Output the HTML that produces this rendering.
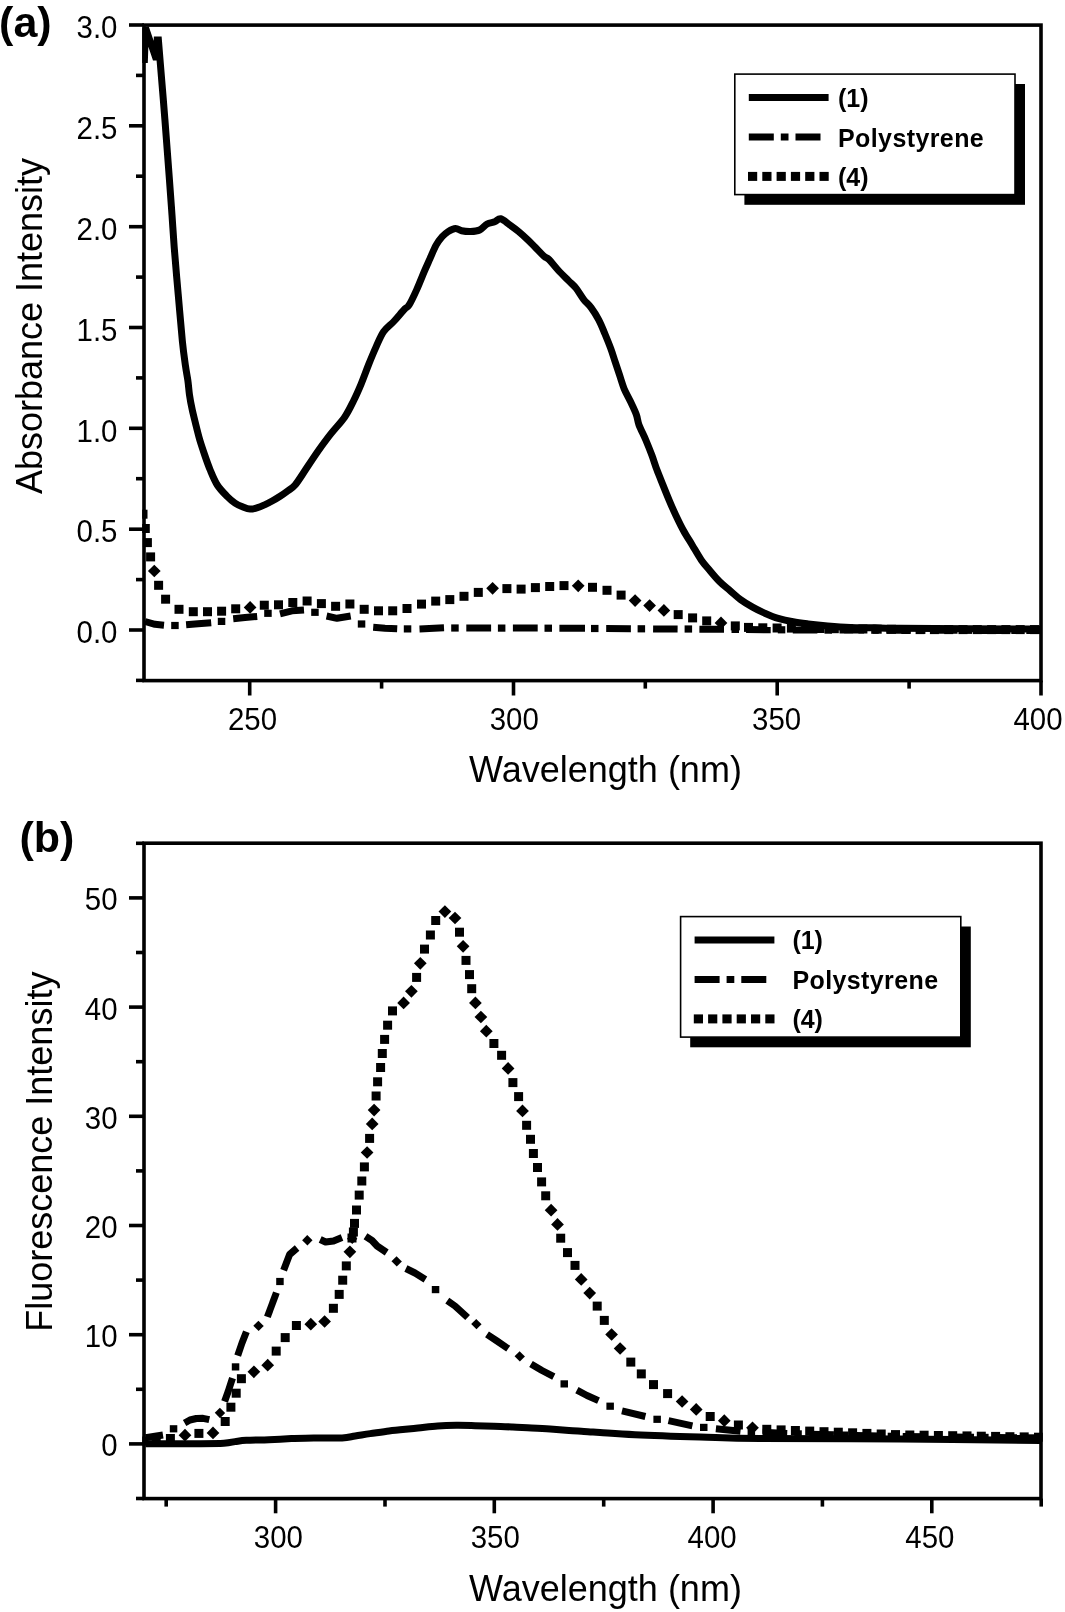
<!DOCTYPE html>
<html><head><meta charset="utf-8"><style>
html,body{margin:0;padding:0;background:#fff;}
svg{display:block;font-family:"Liberation Sans",sans-serif;will-change:transform;}
</style></head><body>
<svg width="1065" height="1612" viewBox="0 0 1065 1612">
<rect width="1065" height="1612" fill="#fff"/>
<rect x="144" y="25.1" width="897" height="655.5" fill="none" stroke="#000" stroke-width="3.6"/>
<line x1="129" y1="630" x2="144" y2="630" stroke="#000" stroke-width="3.6"/>
<line x1="129" y1="529.2" x2="144" y2="529.2" stroke="#000" stroke-width="3.6"/>
<line x1="129" y1="428.3" x2="144" y2="428.3" stroke="#000" stroke-width="3.6"/>
<line x1="129" y1="327.5" x2="144" y2="327.5" stroke="#000" stroke-width="3.6"/>
<line x1="129" y1="226.7" x2="144" y2="226.7" stroke="#000" stroke-width="3.6"/>
<line x1="129" y1="125.8" x2="144" y2="125.8" stroke="#000" stroke-width="3.6"/>
<line x1="129" y1="25" x2="144" y2="25" stroke="#000" stroke-width="3.6"/>
<line x1="136" y1="680.4" x2="144" y2="680.4" stroke="#000" stroke-width="3.6"/>
<line x1="136" y1="579.6" x2="144" y2="579.6" stroke="#000" stroke-width="3.6"/>
<line x1="136" y1="478.7" x2="144" y2="478.7" stroke="#000" stroke-width="3.6"/>
<line x1="136" y1="377.9" x2="144" y2="377.9" stroke="#000" stroke-width="3.6"/>
<line x1="136" y1="277.1" x2="144" y2="277.1" stroke="#000" stroke-width="3.6"/>
<line x1="136" y1="176.2" x2="144" y2="176.2" stroke="#000" stroke-width="3.6"/>
<line x1="136" y1="75.4" x2="144" y2="75.4" stroke="#000" stroke-width="3.6"/>
<line x1="249.7" y1="680.6" x2="249.7" y2="695.5" stroke="#000" stroke-width="3.6"/>
<line x1="513.5" y1="680.6" x2="513.5" y2="695.5" stroke="#000" stroke-width="3.6"/>
<line x1="777.2" y1="680.6" x2="777.2" y2="695.5" stroke="#000" stroke-width="3.6"/>
<line x1="1041" y1="680.6" x2="1041" y2="695.5" stroke="#000" stroke-width="3.6"/>
<line x1="381.6" y1="680.6" x2="381.6" y2="688.6" stroke="#000" stroke-width="3.6"/>
<line x1="645.3" y1="680.6" x2="645.3" y2="688.6" stroke="#000" stroke-width="3.6"/>
<line x1="909.1" y1="680.6" x2="909.1" y2="688.6" stroke="#000" stroke-width="3.6"/>
<text transform="translate(117.5,643.2) scale(0.92,1)" font-size="32" text-anchor="end">0.0</text>
<text transform="translate(117.5,542.4) scale(0.92,1)" font-size="32" text-anchor="end">0.5</text>
<text transform="translate(117.5,441.5) scale(0.92,1)" font-size="32" text-anchor="end">1.0</text>
<text transform="translate(117.5,340.7) scale(0.92,1)" font-size="32" text-anchor="end">1.5</text>
<text transform="translate(117.5,239.9) scale(0.92,1)" font-size="32" text-anchor="end">2.0</text>
<text transform="translate(117.5,139) scale(0.92,1)" font-size="32" text-anchor="end">2.5</text>
<text transform="translate(117.5,38.2) scale(0.92,1)" font-size="32" text-anchor="end">3.0</text>
<text transform="translate(252.5,730.2) scale(0.92,1)" font-size="32" text-anchor="middle">250</text>
<text transform="translate(514.2,730.2) scale(0.92,1)" font-size="32" text-anchor="middle">300</text>
<text transform="translate(776.6,730.2) scale(0.92,1)" font-size="32" text-anchor="middle">350</text>
<text transform="translate(1038,730.2) scale(0.92,1)" font-size="32" text-anchor="middle">400</text>
<rect x="144" y="843.2" width="897" height="655.4" fill="none" stroke="#000" stroke-width="3.6"/>
<line x1="129" y1="1443.9" x2="144" y2="1443.9" stroke="#000" stroke-width="3.6"/>
<line x1="129" y1="1334.7" x2="144" y2="1334.7" stroke="#000" stroke-width="3.6"/>
<line x1="129" y1="1225.5" x2="144" y2="1225.5" stroke="#000" stroke-width="3.6"/>
<line x1="129" y1="1116.3" x2="144" y2="1116.3" stroke="#000" stroke-width="3.6"/>
<line x1="129" y1="1007.1" x2="144" y2="1007.1" stroke="#000" stroke-width="3.6"/>
<line x1="129" y1="897.9" x2="144" y2="897.9" stroke="#000" stroke-width="3.6"/>
<line x1="136" y1="1498.5" x2="144" y2="1498.5" stroke="#000" stroke-width="3.6"/>
<line x1="136" y1="1389.3" x2="144" y2="1389.3" stroke="#000" stroke-width="3.6"/>
<line x1="136" y1="1280.1" x2="144" y2="1280.1" stroke="#000" stroke-width="3.6"/>
<line x1="136" y1="1170.9" x2="144" y2="1170.9" stroke="#000" stroke-width="3.6"/>
<line x1="136" y1="1061.7" x2="144" y2="1061.7" stroke="#000" stroke-width="3.6"/>
<line x1="136" y1="952.5" x2="144" y2="952.5" stroke="#000" stroke-width="3.6"/>
<line x1="136" y1="843.3" x2="144" y2="843.3" stroke="#000" stroke-width="3.6"/>
<line x1="275.6" y1="1498.6" x2="275.6" y2="1513.3" stroke="#000" stroke-width="3.6"/>
<line x1="494.3" y1="1498.6" x2="494.3" y2="1513.3" stroke="#000" stroke-width="3.6"/>
<line x1="713.1" y1="1498.6" x2="713.1" y2="1513.3" stroke="#000" stroke-width="3.6"/>
<line x1="931.8" y1="1498.6" x2="931.8" y2="1513.3" stroke="#000" stroke-width="3.6"/>
<line x1="166.2" y1="1498.6" x2="166.2" y2="1506.6" stroke="#000" stroke-width="3.6"/>
<line x1="385" y1="1498.6" x2="385" y2="1506.6" stroke="#000" stroke-width="3.6"/>
<line x1="603.7" y1="1498.6" x2="603.7" y2="1506.6" stroke="#000" stroke-width="3.6"/>
<line x1="822.4" y1="1498.6" x2="822.4" y2="1506.6" stroke="#000" stroke-width="3.6"/>
<line x1="1041.2" y1="1498.6" x2="1041.2" y2="1506.6" stroke="#000" stroke-width="3.6"/>
<text transform="translate(117.5,1456.4) scale(0.92,1)" font-size="32" text-anchor="end">0</text>
<text transform="translate(117.5,1347.2) scale(0.92,1)" font-size="32" text-anchor="end">10</text>
<text transform="translate(117.5,1238) scale(0.92,1)" font-size="32" text-anchor="end">20</text>
<text transform="translate(117.5,1128.8) scale(0.92,1)" font-size="32" text-anchor="end">30</text>
<text transform="translate(117.5,1019.6) scale(0.92,1)" font-size="32" text-anchor="end">40</text>
<text transform="translate(117.5,910.4) scale(0.92,1)" font-size="32" text-anchor="end">50</text>
<text transform="translate(278.4,1548.2) scale(0.92,1)" font-size="32" text-anchor="middle">300</text>
<text transform="translate(495.2,1548.2) scale(0.92,1)" font-size="32" text-anchor="middle">350</text>
<text transform="translate(712.1,1548.2) scale(0.92,1)" font-size="32" text-anchor="middle">400</text>
<text transform="translate(929.9,1548.2) scale(0.92,1)" font-size="32" text-anchor="middle">450</text>
<rect x="744.4" y="84" width="280.6" height="120.8" fill="#000"/>
<rect x="734.8" y="74.1" width="280.2" height="120.5" fill="#fff" stroke="#000" stroke-width="1.6"/>
<line x1="748.8" y1="97.5" x2="828.6" y2="97.5" stroke="#000" stroke-width="7"/>
<line x1="748.8" y1="137" x2="820.8" y2="137" stroke="#000" stroke-width="7" stroke-dasharray="25 7 7.7 7"/>
<rect x="748" y="171.9" width="9.2" height="9" fill="#000"/>
<rect x="762.3" y="171.9" width="9.2" height="9" fill="#000"/>
<rect x="776.6" y="171.9" width="9.2" height="9" fill="#000"/>
<rect x="790.9" y="171.9" width="9.2" height="9" fill="#000"/>
<rect x="805.2" y="171.9" width="9.2" height="9" fill="#000"/>
<rect x="819.5" y="171.9" width="9.2" height="9" fill="#000"/>
<text x="838" y="106.8" font-size="25" text-anchor="start" font-weight="bold" >(1)</text>
<text x="838" y="146.9" font-size="25" text-anchor="start" font-weight="bold" letter-spacing="0.4">Polystyrene</text>
<text x="838" y="185.8" font-size="25" text-anchor="start" font-weight="bold" >(4)</text>
<rect x="690.2" y="926.5" width="280.6" height="120.8" fill="#000"/>
<rect x="680.6" y="916.6" width="280.2" height="120.5" fill="#fff" stroke="#000" stroke-width="1.6"/>
<line x1="694.6" y1="940" x2="774.4" y2="940" stroke="#000" stroke-width="7"/>
<line x1="694.6" y1="979.5" x2="766.6" y2="979.5" stroke="#000" stroke-width="7" stroke-dasharray="25 7 7.7 7"/>
<rect x="693.8" y="1014.4" width="9.2" height="9" fill="#000"/>
<rect x="708.1" y="1014.4" width="9.2" height="9" fill="#000"/>
<rect x="722.4" y="1014.4" width="9.2" height="9" fill="#000"/>
<rect x="736.7" y="1014.4" width="9.2" height="9" fill="#000"/>
<rect x="751" y="1014.4" width="9.2" height="9" fill="#000"/>
<rect x="765.3" y="1014.4" width="9.2" height="9" fill="#000"/>
<text x="792.4" y="949.3" font-size="25" text-anchor="start" font-weight="bold" >(1)</text>
<text x="792.4" y="989.4" font-size="25" text-anchor="start" font-weight="bold" letter-spacing="0.4">Polystyrene</text>
<text x="792.4" y="1028.3" font-size="25" text-anchor="start" font-weight="bold" >(4)</text>
<defs><clipPath id="ca"><rect x="142.2" y="23.3" width="900.6" height="659.1"/></clipPath><clipPath id="cb"><rect x="142.2" y="841.4" width="900.6" height="659"/></clipPath></defs>
<g clip-path="url(#ca)">
<path d="M144.3 63 L145.5 27.5 L156.3 59.5 L157.2 40 L158.4 40 L160.2 62 C161 71.6 163.4 100.1 164.9 119.6 C166.4 139.1 168.2 163.3 169.4 179.2 C170.6 195.1 171.2 203.7 172 215 C172.8 226.3 173.2 234 174.2 247.2 C175.2 260.4 176.8 278.6 178.2 294.3 C179.6 310 181.2 329.6 182.4 341.5 C183.6 353.4 184.6 359.6 185.5 366 C186.4 372.4 187.1 375.2 187.8 380 C188.5 384.8 188.8 390 189.5 395 C190.2 400 191.2 405 192.3 410 C193.4 415 194.7 420 195.9 425 C197.2 430 198.3 435 199.8 440 C201.3 445 203 450 204.7 455 C206.4 460 208.1 465 210.2 470 C212.3 475 214.5 480.6 217.3 485 C220.1 489.4 224.2 493.4 227.1 496.4 C230 499.4 232.4 501.4 235 503.1 C237.6 504.8 240 505.8 242.5 506.8 C245 507.8 247.5 509 250 509.1 C252.5 509.2 255.1 508.4 257.6 507.6 C260.1 506.9 262.6 505.7 265.1 504.6 C267.6 503.5 270.1 502.2 272.6 500.8 C275.1 499.4 277.6 497.9 280.1 496.3 C282.6 494.7 285.1 492.9 287.6 491 C290.1 489.1 292.1 488.5 295.1 485 C298.1 481.5 301.8 475.4 305.5 469.8 C309.2 464.2 313.4 457.7 317.6 451.7 C321.9 445.7 326.5 439.4 331 433.7 C335.5 427.9 340.8 422.7 344.6 417.2 C348.4 411.7 350.9 406.2 353.6 400.7 C356.4 395.2 358.6 390.1 361.1 384.1 C363.6 378.1 366.1 370.9 368.6 364.6 C371.1 358.4 373.7 352.1 376.2 346.6 C378.7 341.1 380.7 335.8 383.7 331.5 C386.7 327.2 390.7 324.8 394.2 321 C397.7 317.2 402.2 311.6 404.7 309 C407.2 306.4 407 308.3 409 305.2 C411 302.1 414 295.6 416.5 290.1 C419 284.6 421.8 277.4 424 272.1 C426.2 266.9 428 263.1 430 258.6 C432 254.1 434.1 248.7 436.1 245.1 C438.1 241.5 440.1 239.1 442.1 236.8 C444.1 234.6 445.9 233 448.1 231.6 C450.4 230.2 453.4 228.6 455.6 228.5 C457.9 228.4 459.1 230.3 461.6 230.8 C464.1 231.3 467.6 231.7 470.6 231.6 C473.6 231.5 476.9 231.3 479.6 230 C482.4 228.7 484.6 225.4 487.1 224 C489.6 222.6 492.4 222.7 494.7 221.8 C497 220.9 498.2 218.3 500.7 218.8 C503.2 219.3 506.7 222.7 509.7 224.8 C512.7 226.9 515.7 229.1 518.7 231.6 C521.7 234.1 525 237.2 527.7 239.8 C530.5 242.4 532.5 244.6 535.2 247.3 C538 250.1 541.9 254.3 544.2 256.3 C546.5 258.3 546.7 257.2 549 259.5 C551.3 261.8 554.8 266.5 558 270 C561.2 273.5 565.5 277.6 568.5 280.6 C571.5 283.6 573.5 285 576 288.1 C578.5 291.2 581.1 296.1 583.6 299.3 C586.1 302.6 588.6 304.2 591.1 307.6 C593.6 311 596.4 315.4 598.6 319.6 C600.9 323.9 602.6 328.3 604.6 333.1 C606.6 337.9 608.9 343.4 610.6 348.2 C612.4 353 613.6 357.2 615.1 361.7 C616.6 366.2 618.1 370.7 619.6 375.2 C621.1 379.7 622.4 384.4 624.1 388.7 C625.9 393 628.1 396.5 630.1 400.8 C632.1 405.1 634.7 410.3 636.2 414.3 C637.7 418.3 637.4 420.7 639 425 C640.6 429.3 643.7 435 645.8 440 C647.9 445 649.9 450 651.8 455 C653.7 460 655.1 465.1 657 470.1 C658.9 475.1 661 480.1 663 485.1 C665 490.1 667 495.1 669.1 500.1 C671.2 505.1 673.4 510.2 675.8 515.2 C678.2 520.2 680.5 525.2 683.3 530.2 C686 535.2 689.3 540.2 692.3 545.2 C695.3 550.2 698.6 556.2 701.4 560.2 C704.2 564.2 706 566 709 569.5 C712 573 716 578 719.5 581.5 C723 585 726.5 587.6 730 590.6 C733.5 593.6 736.8 596.9 740.6 599.6 C744.4 602.4 748.6 604.9 752.6 607.1 C756.6 609.4 760.4 611.2 764.6 613.1 C768.9 615 773.4 617 778.1 618.4 C782.9 619.8 788.1 620.9 793.1 621.8 C798.1 622.7 802.4 623.2 808.2 623.9 C814 624.6 820.7 625.3 827.7 625.9 C834.7 626.5 842.3 627.1 850.2 627.4 C858.1 627.7 866.7 627.6 875 627.8 C883.3 627.9 872.3 628.1 900 628.3 C927.7 628.5 1017.5 628.9 1041 629" fill="none" stroke="#000" stroke-width="7" stroke-linejoin="miter" stroke-miterlimit="2"/>
<path d="M145 621.5 L155 624.3 L164 625.2" fill="none" stroke="#000" stroke-width="7" stroke-linejoin="round"/>
<path d="M186.1 624.8 L198 623.8 L211.2 622.7" fill="none" stroke="#000" stroke-width="7" stroke-linejoin="round"/>
<path d="M233.2 618.7 L245 617.5 L257.2 616.4" fill="none" stroke="#000" stroke-width="7" stroke-linejoin="round"/>
<path d="M280 613.8 L292 610.8 L304 610" fill="none" stroke="#000" stroke-width="7" stroke-linejoin="round"/>
<path d="M326.6 616 L337 618.3 L350.7 616" fill="none" stroke="#000" stroke-width="7" stroke-linejoin="round"/>
<path d="M373.2 627.3 L385 628.2 L397.2 628.8" fill="none" stroke="#000" stroke-width="7" stroke-linejoin="round"/>
<path d="M419.5 628.9 L444 627.8" fill="none" stroke="#000" stroke-width="7" stroke-linejoin="round"/>
<path d="M466.3 628.1 L491.1 628.1" fill="none" stroke="#000" stroke-width="7" stroke-linejoin="round"/>
<path d="M512.9 628.1 L537.7 628.1" fill="none" stroke="#000" stroke-width="7" stroke-linejoin="round"/>
<path d="M559.4 628.2 L585 628.2" fill="none" stroke="#000" stroke-width="7" stroke-linejoin="round"/>
<path d="M606.2 628.6 L630.9 628.7" fill="none" stroke="#000" stroke-width="7" stroke-linejoin="round"/>
<path d="M653.1 628.9 L677.6 629" fill="none" stroke="#000" stroke-width="7" stroke-linejoin="round"/>
<path d="M699.4 629.2 L724 629.3" fill="none" stroke="#000" stroke-width="7" stroke-linejoin="round"/>
<path d="M746.1 629.5 L770.7 629.7" fill="none" stroke="#000" stroke-width="7" stroke-linejoin="round"/>
<path d="M792.8 629.9 L817.4 630" fill="none" stroke="#000" stroke-width="7" stroke-linejoin="round"/>
<path d="M839.5 630.1 L864.1 630.1" fill="none" stroke="#000" stroke-width="7" stroke-linejoin="round"/>
<path d="M886.2 630.2 L910.8 630.2" fill="none" stroke="#000" stroke-width="7" stroke-linejoin="round"/>
<path d="M932.9 630.3 L957.5 630.3" fill="none" stroke="#000" stroke-width="7" stroke-linejoin="round"/>
<path d="M979.6 630.4 L1004.2 630.4" fill="none" stroke="#000" stroke-width="7" stroke-linejoin="round"/>
<path d="M1026.3 630.5 L1041 630.5" fill="none" stroke="#000" stroke-width="7" stroke-linejoin="round"/>
<rect x="171.2" y="621.9" width="7.5" height="7.2"/>
<rect x="217.8" y="617.8" width="7.5" height="7.2"/>
<rect x="264.2" y="609.7" width="7.5" height="7.2"/>
<rect x="311.2" y="608.7" width="7.5" height="7.2"/>
<rect x="357.8" y="620.4" width="7.5" height="7.2"/>
<rect x="403.8" y="625.3" width="7.5" height="7.2"/>
<rect x="451.2" y="624.4" width="7.5" height="7.2"/>
<rect x="497.9" y="624.5" width="7.5" height="7.2"/>
<rect x="544.5" y="624.6" width="7.5" height="7.2"/>
<rect x="591" y="624.9" width="7.5" height="7.2"/>
<rect x="637.6" y="625.2" width="7.5" height="7.2"/>
<rect x="684.6" y="625.4" width="7.5" height="7.2"/>
<rect x="731.5" y="625.8" width="7.5" height="7.2"/>
<rect x="777.8" y="626.2" width="7.5" height="7.2"/>
<rect x="824.5" y="626.5" width="7.5" height="7.2"/>
<rect x="871.2" y="626.6" width="7.5" height="7.2"/>
<rect x="917.9" y="626.7" width="7.5" height="7.2"/>
<rect x="964.6" y="626.7" width="7.5" height="7.2"/>
<rect x="1011.3" y="626.8" width="7.5" height="7.2"/>
<rect x="138.5" y="509.7" width="9" height="9"/>
<rect x="140.8" y="524" width="9" height="9"/>
<rect x="142.9" y="538.1" width="9" height="9"/>
<rect x="146.1" y="552.4" width="9" height="9"/>
<rect x="149.8" y="566.5" width="9" height="9" transform="rotate(45 154.3 571)"/>
<rect x="154.1" y="580.8" width="9" height="9"/>
<rect x="161.1" y="594.7" width="9" height="9"/>
<rect x="174.5" y="604.8" width="9" height="9"/>
<rect x="188.8" y="607.2" width="9" height="9"/>
<rect x="203" y="607.2" width="9" height="9"/>
<rect x="217.1" y="606.7" width="9" height="9"/>
<rect x="231.2" y="604.3" width="9" height="9"/>
<rect x="245.6" y="602.9" width="9" height="9" transform="rotate(45 250.1 607.4)"/>
<rect x="259.8" y="600.7" width="9" height="9"/>
<rect x="274" y="600.3" width="9" height="9"/>
<rect x="288.3" y="598" width="9" height="9"/>
<rect x="302.6" y="596.5" width="9" height="9"/>
<rect x="316.9" y="599.1" width="9" height="9"/>
<rect x="331.1" y="601.8" width="9" height="9"/>
<rect x="345.4" y="599.5" width="9" height="9"/>
<rect x="359.7" y="604.8" width="9" height="9"/>
<rect x="374" y="606.3" width="9" height="9"/>
<rect x="388.2" y="606.3" width="9" height="9"/>
<rect x="402.5" y="604" width="9" height="9"/>
<rect x="417" y="599.6" width="9" height="9"/>
<rect x="431.2" y="596.6" width="9" height="9"/>
<rect x="445.3" y="595.1" width="9" height="9"/>
<rect x="459.5" y="591.8" width="9" height="9"/>
<rect x="473.8" y="587.9" width="9" height="9"/>
<rect x="488.1" y="583.8" width="9" height="9" transform="rotate(45 492.6 588.3)"/>
<rect x="502.4" y="584.1" width="9" height="9"/>
<rect x="516.6" y="584.6" width="9" height="9"/>
<rect x="530.9" y="583.1" width="9" height="9"/>
<rect x="545.2" y="582" width="9" height="9"/>
<rect x="559.5" y="581.1" width="9" height="9"/>
<rect x="573.7" y="581.3" width="9" height="9" transform="rotate(45 578.2 585.8)"/>
<rect x="588" y="582.8" width="9" height="9"/>
<rect x="602.5" y="585.8" width="9" height="9"/>
<rect x="616.6" y="590.6" width="9" height="9"/>
<rect x="630.6" y="596.1" width="9" height="9" transform="rotate(45 635.1 600.6)"/>
<rect x="645.1" y="601.1" width="9" height="9" transform="rotate(45 649.6 605.6)"/>
<rect x="659.4" y="605.9" width="9" height="9" transform="rotate(45 663.9 610.4)"/>
<rect x="673.7" y="610.1" width="9" height="9"/>
<rect x="688.1" y="613.4" width="9" height="9"/>
<rect x="702.2" y="616.4" width="9" height="9"/>
<rect x="716.5" y="618.4" width="9" height="9" transform="rotate(45 721 622.9)"/>
<rect x="730.8" y="621.4" width="9" height="9"/>
<rect x="744" y="622.9" width="9" height="9"/>
<rect x="758.3" y="623.3" width="9" height="9"/>
<rect x="772.6" y="623.5" width="9" height="9"/>
<rect x="786.9" y="623.6" width="9" height="9"/>
<rect x="801.2" y="623.8" width="9" height="9"/>
<rect x="815.5" y="624" width="9" height="9"/>
<rect x="829.8" y="624.2" width="9" height="9"/>
<rect x="844.1" y="624.3" width="9" height="9"/>
<rect x="858.4" y="624.5" width="9" height="9"/>
<rect x="872.7" y="624.7" width="9" height="9"/>
<rect x="887" y="624.8" width="9" height="9"/>
<rect x="901.3" y="625" width="9" height="9"/>
<rect x="915.6" y="625.1" width="9" height="9"/>
<rect x="929.9" y="625.1" width="9" height="9"/>
<rect x="944.2" y="625.1" width="9" height="9"/>
<rect x="958.5" y="625.1" width="9" height="9"/>
<rect x="972.8" y="625.1" width="9" height="9"/>
<rect x="987.1" y="625.1" width="9" height="9"/>
<rect x="1001.4" y="625.1" width="9" height="9"/>
<rect x="1015.7" y="625.1" width="9" height="9"/>
<rect x="1030" y="625.1" width="9" height="9"/>
</g>
<g clip-path="url(#cb)">
<path d="M145.5 1443.8 C152.9 1443.8 176.9 1443.8 190 1443.7 C203.1 1443.6 216.3 1443.7 223.8 1443.3 C231.3 1442.9 231.2 1442.1 235 1441.6 C238.8 1441.1 240.7 1440.6 246.3 1440.3 C252 1440 261.4 1440 268.9 1439.7 C276.4 1439.4 283.9 1438.9 291.4 1438.6 C298.9 1438.3 305.4 1438 313.9 1437.9 C322.3 1437.8 335.2 1438.2 342.1 1437.9 C349 1437.6 350.5 1436.7 355.2 1436 C359.9 1435.3 364.6 1434.4 370.2 1433.6 C375.8 1432.8 384 1431.5 389 1430.9 C394 1430.3 395.2 1430.3 400 1429.8 C404.8 1429.3 411.7 1428.6 418 1428 C424.3 1427.4 431.2 1426.5 437.6 1426.1 C444 1425.6 450.1 1425.4 456.3 1425.3 C462.6 1425.2 468.8 1425.5 475.1 1425.7 C481.4 1425.9 487.6 1426 493.9 1426.2 C500.2 1426.4 506.4 1426.7 512.7 1427 C519 1427.3 525.2 1427.8 531.5 1428.1 C537.8 1428.4 544 1428.7 550.2 1429.1 C556.5 1429.5 562.7 1430 569 1430.4 C575.3 1430.8 582.6 1431.4 587.8 1431.7 C593 1432 592.1 1432 600 1432.5 C607.9 1433 618.3 1434 635 1434.7 C651.7 1435.5 679.2 1436.4 700 1437 C720.8 1437.6 726.7 1438.2 760 1438.5 C793.3 1438.8 853.2 1438.7 900 1439 C946.8 1439.3 1017.5 1440.3 1041 1440.6" fill="none" stroke="#000" stroke-width="7" stroke-linejoin="round"/>
<path d="M145.6 1437.8 L155 1436.3 L163 1435" fill="none" stroke="#000" stroke-width="7" stroke-linejoin="round"/>
<path d="M184.6 1423 L190 1420 L196.3 1418.5 L203 1418.3 L209.3 1419.7" fill="none" stroke="#000" stroke-width="7" stroke-linejoin="round"/>
<path d="M224.6 1401.5 L228 1392 L232.5 1378.1" fill="none" stroke="#000" stroke-width="7" stroke-linejoin="round"/>
<path d="M237.7 1355.7 L242 1343 L246.4 1331.7" fill="none" stroke="#000" stroke-width="7" stroke-linejoin="round"/>
<path d="M267.4 1316.9 L276.4 1292.6" fill="none" stroke="#000" stroke-width="7" stroke-linejoin="round"/>
<path d="M283.6 1270.3 L289.6 1254.5 L297.1 1248" fill="none" stroke="#000" stroke-width="7" stroke-linejoin="round"/>
<path d="M320.2 1239.5 L325.6 1242 L333.5 1241 L342 1237.6" fill="none" stroke="#000" stroke-width="7" stroke-linejoin="round"/>
<path d="M365.5 1236.3 L372 1240.5 L377.1 1246 L386.7 1252.5" fill="none" stroke="#000" stroke-width="7" stroke-linejoin="round"/>
<path d="M405.9 1268.5 L415 1273 L425.4 1279.4" fill="none" stroke="#000" stroke-width="7" stroke-linejoin="round"/>
<path d="M447.3 1300.6 L455 1306 L467.6 1317.5" fill="none" stroke="#000" stroke-width="7" stroke-linejoin="round"/>
<path d="M487 1334.4 L497 1341 L508.2 1348.7" fill="none" stroke="#000" stroke-width="7" stroke-linejoin="round"/>
<path d="M531 1363.9 L542 1370.5 L553.8 1376.6" fill="none" stroke="#000" stroke-width="7" stroke-linejoin="round"/>
<path d="M576.9 1390.2 L587 1395.5 L598.5 1400.6" fill="none" stroke="#000" stroke-width="7" stroke-linejoin="round"/>
<path d="M622 1410.9 L645.4 1416.5" fill="none" stroke="#000" stroke-width="7" stroke-linejoin="round"/>
<path d="M668.5 1420.7 L692.4 1425.9" fill="none" stroke="#000" stroke-width="7" stroke-linejoin="round"/>
<path d="M715.9 1428.8 L740.5 1431.3" fill="none" stroke="#000" stroke-width="7" stroke-linejoin="round"/>
<path d="M762.6 1432.3 L787.2 1433.4" fill="none" stroke="#000" stroke-width="7" stroke-linejoin="round"/>
<path d="M809.3 1434.2 L833.9 1434.8" fill="none" stroke="#000" stroke-width="7" stroke-linejoin="round"/>
<path d="M856 1435.4 L880.6 1436" fill="none" stroke="#000" stroke-width="7" stroke-linejoin="round"/>
<path d="M902.7 1436.5 L927.3 1436.8" fill="none" stroke="#000" stroke-width="7" stroke-linejoin="round"/>
<path d="M949.4 1437 L974 1437.3" fill="none" stroke="#000" stroke-width="7" stroke-linejoin="round"/>
<path d="M996.1 1437.5 L1020.7 1437.8" fill="none" stroke="#000" stroke-width="7" stroke-linejoin="round"/>
<rect x="169.8" y="1425.2" width="7.5" height="7.2"/>
<rect x="216.2" y="1409.4" width="7.5" height="7.2" transform="rotate(45 220 1413)"/>
<rect x="231.8" y="1363.3" width="7.5" height="7.2"/>
<rect x="254.8" y="1322.2" width="7.5" height="7.2" transform="rotate(45 258.5 1325.8)"/>
<rect x="276.2" y="1277.9" width="7.5" height="7.2"/>
<rect x="303.6" y="1236.6" width="7.5" height="7.2" transform="rotate(45 307.3 1240.2)"/>
<rect x="348.4" y="1235.1" width="7.5" height="7.2" transform="rotate(45 352.1 1238.7)"/>
<rect x="392.9" y="1257.8" width="7.5" height="7.2" transform="rotate(45 396.7 1261.4)"/>
<rect x="431.8" y="1286" width="7.5" height="7.2"/>
<rect x="472.6" y="1320.6" width="7.5" height="7.2" transform="rotate(45 476.4 1324.2)"/>
<rect x="516" y="1352.7" width="7.5" height="7.2" transform="rotate(45 519.7 1356.3)"/>
<rect x="560.5" y="1380.3" width="7.5" height="7.2"/>
<rect x="606.4" y="1402.6" width="7.5" height="7.2"/>
<rect x="653.4" y="1415.7" width="7.5" height="7.2"/>
<rect x="700" y="1423.8" width="7.5" height="7.2"/>
<rect x="747.6" y="1428.2" width="7.5" height="7.2"/>
<rect x="794.3" y="1430.3" width="7.5" height="7.2"/>
<rect x="841" y="1431.5" width="7.5" height="7.2"/>
<rect x="887.7" y="1432.7" width="7.5" height="7.2"/>
<rect x="934.4" y="1433.3" width="7.5" height="7.2"/>
<rect x="981.1" y="1433.8" width="7.5" height="7.2"/>
<rect x="1027.8" y="1434.3" width="7.5" height="7.2"/>
<rect x="137.5" y="1436.5" width="9" height="9"/>
<rect x="151.7" y="1435.5" width="9" height="9"/>
<rect x="165.9" y="1434" width="9" height="9"/>
<rect x="180.5" y="1430.7" width="9" height="9" transform="rotate(45 185 1435.2)"/>
<rect x="194.4" y="1428.9" width="9" height="9"/>
<rect x="208.5" y="1428.4" width="9" height="9" transform="rotate(45 213 1432.9)"/>
<rect x="220.7" y="1417" width="9" height="9"/>
<rect x="226.4" y="1402.7" width="9" height="9"/>
<rect x="231.7" y="1388.7" width="9" height="9"/>
<rect x="236.9" y="1374.2" width="9" height="9"/>
<rect x="249.4" y="1367.3" width="9" height="9" transform="rotate(45 253.9 1371.8)"/>
<rect x="263.2" y="1360.7" width="9" height="9" transform="rotate(45 267.7 1365.2)"/>
<rect x="271.7" y="1346.6" width="9" height="9"/>
<rect x="280.7" y="1333.1" width="9" height="9"/>
<rect x="291.9" y="1321" width="9" height="9"/>
<rect x="306.3" y="1319.7" width="9" height="9" transform="rotate(45 310.8 1324.2)"/>
<rect x="320.1" y="1317" width="9" height="9" transform="rotate(45 324.6 1321.5)"/>
<rect x="328.9" y="1303.8" width="9" height="9"/>
<rect x="334.7" y="1289.9" width="9" height="9"/>
<rect x="338.2" y="1275.7" width="9" height="9"/>
<rect x="341.8" y="1261.4" width="9" height="9"/>
<rect x="345.4" y="1247.3" width="9" height="9" transform="rotate(45 349.9 1251.8)"/>
<rect x="347.5" y="1233.5" width="9" height="9"/>
<rect x="348.9" y="1227.5" width="9" height="9"/>
<rect x="350" y="1218.9" width="9" height="9"/>
<rect x="352" y="1205.5" width="9" height="9"/>
<rect x="354.7" y="1190.6" width="9" height="9"/>
<rect x="357.3" y="1176.5" width="9" height="9"/>
<rect x="359.9" y="1162.4" width="9" height="9"/>
<rect x="362.6" y="1148" width="9" height="9" transform="rotate(45 367.1 1152.5)"/>
<rect x="365.1" y="1133.9" width="9" height="9"/>
<rect x="367.7" y="1119.4" width="9" height="9" transform="rotate(45 372.2 1123.9)"/>
<rect x="369.6" y="1105.6" width="9" height="9" transform="rotate(45 374.1 1110.1)"/>
<rect x="371.6" y="1091.5" width="9" height="9"/>
<rect x="373.1" y="1077.3" width="9" height="9"/>
<rect x="376.1" y="1063" width="9" height="9"/>
<rect x="377.8" y="1049" width="9" height="9"/>
<rect x="380.1" y="1034.9" width="9" height="9"/>
<rect x="383.1" y="1020.7" width="9" height="9"/>
<rect x="388" y="1006.4" width="9" height="9"/>
<rect x="399.1" y="998.4" width="9" height="9" transform="rotate(45 403.6 1002.9)"/>
<rect x="406.9" y="986.8" width="9" height="9" transform="rotate(45 411.4 991.3)"/>
<rect x="412.1" y="972.9" width="9" height="9"/>
<rect x="415.8" y="958.8" width="9" height="9" transform="rotate(45 420.3 963.3)"/>
<rect x="420" y="944.6" width="9" height="9"/>
<rect x="425.9" y="930.5" width="9" height="9"/>
<rect x="431.2" y="916" width="9" height="9"/>
<rect x="440.4" y="907.1" width="9" height="9" transform="rotate(45 444.9 911.6)"/>
<rect x="450.5" y="913.5" width="9" height="9" transform="rotate(45 455 918)"/>
<rect x="455" y="927.7" width="9" height="9"/>
<rect x="458.6" y="941.8" width="9" height="9" transform="rotate(45 463.1 946.3)"/>
<rect x="461.5" y="955.9" width="9" height="9"/>
<rect x="465" y="970.1" width="9" height="9"/>
<rect x="467.2" y="984.2" width="9" height="9"/>
<rect x="470.9" y="998.4" width="9" height="9" transform="rotate(45 475.4 1002.9)"/>
<rect x="476.4" y="1012.5" width="9" height="9" transform="rotate(45 480.9 1017)"/>
<rect x="481.8" y="1026.7" width="9" height="9" transform="rotate(45 486.3 1031.2)"/>
<rect x="489.4" y="1039" width="9" height="9"/>
<rect x="497.1" y="1050.8" width="9" height="9"/>
<rect x="503.6" y="1063.9" width="9" height="9" transform="rotate(45 508.1 1068.4)"/>
<rect x="508.4" y="1078.1" width="9" height="9"/>
<rect x="514.1" y="1092.1" width="9" height="9"/>
<rect x="518" y="1106.4" width="9" height="9" transform="rotate(45 522.5 1110.9)"/>
<rect x="522.1" y="1120.8" width="9" height="9"/>
<rect x="526" y="1134.8" width="9" height="9"/>
<rect x="528.9" y="1149" width="9" height="9"/>
<rect x="533" y="1163" width="9" height="9"/>
<rect x="537.1" y="1177.4" width="9" height="9"/>
<rect x="541.2" y="1191.3" width="9" height="9"/>
<rect x="546.6" y="1205.7" width="9" height="9" transform="rotate(45 551.1 1210.2)"/>
<rect x="553" y="1219.9" width="9" height="9" transform="rotate(45 557.5 1224.4)"/>
<rect x="556.2" y="1233.7" width="9" height="9"/>
<rect x="563" y="1248.1" width="9" height="9"/>
<rect x="570.5" y="1260.9" width="9" height="9"/>
<rect x="576.7" y="1274.9" width="9" height="9" transform="rotate(45 581.2 1279.4)"/>
<rect x="585.2" y="1288.6" width="9" height="9" transform="rotate(45 589.7 1293.1)"/>
<rect x="592.7" y="1301.6" width="9" height="9"/>
<rect x="599.8" y="1315.9" width="9" height="9"/>
<rect x="607.1" y="1330" width="9" height="9" transform="rotate(45 611.6 1334.5)"/>
<rect x="615.6" y="1344" width="9" height="9" transform="rotate(45 620.1 1348.5)"/>
<rect x="626.3" y="1357.6" width="9" height="9"/>
<rect x="636.8" y="1369.4" width="9" height="9"/>
<rect x="649" y="1380.1" width="9" height="9"/>
<rect x="663.1" y="1389.1" width="9" height="9"/>
<rect x="677.6" y="1397" width="9" height="9" transform="rotate(45 682.1 1401.5)"/>
<rect x="691.7" y="1404.9" width="9" height="9" transform="rotate(45 696.2 1409.4)"/>
<rect x="705.7" y="1412" width="9" height="9"/>
<rect x="719.8" y="1416.2" width="9" height="9" transform="rotate(45 724.3 1420.7)"/>
<rect x="733.9" y="1420.5" width="9" height="9"/>
<rect x="748" y="1423.3" width="9" height="9" transform="rotate(45 752.5 1427.8)"/>
<rect x="762.3" y="1424.8" width="9" height="9"/>
<rect x="776.6" y="1425.4" width="9" height="9"/>
<rect x="790.9" y="1426" width="9" height="9"/>
<rect x="805.2" y="1426.6" width="9" height="9"/>
<rect x="819.5" y="1427.2" width="9" height="9"/>
<rect x="833.8" y="1427.7" width="9" height="9"/>
<rect x="848.1" y="1428.3" width="9" height="9"/>
<rect x="862.4" y="1428.9" width="9" height="9"/>
<rect x="876.7" y="1429.5" width="9" height="9"/>
<rect x="891" y="1430.1" width="9" height="9"/>
<rect x="905.3" y="1430.5" width="9" height="9"/>
<rect x="919.6" y="1430.7" width="9" height="9"/>
<rect x="933.9" y="1431" width="9" height="9"/>
<rect x="948.2" y="1431.2" width="9" height="9"/>
<rect x="962.5" y="1431.4" width="9" height="9"/>
<rect x="976.8" y="1431.7" width="9" height="9"/>
<rect x="991.1" y="1431.9" width="9" height="9"/>
<rect x="1005.4" y="1432.2" width="9" height="9"/>
<rect x="1019.7" y="1432.4" width="9" height="9"/>
<rect x="1034" y="1432.7" width="9" height="9"/>
</g>
<text x="-0.9" y="36.8" font-size="43" text-anchor="start" font-weight="bold" >(a)</text>
<text x="19.5" y="852" font-size="43" text-anchor="start" font-weight="bold" >(b)</text>
<text x="605.5" y="782" font-size="36" text-anchor="middle" >Wavelength (nm)</text>
<text x="605.5" y="1600.5" font-size="36" text-anchor="middle" >Wavelength (nm)</text>
<text transform="translate(41.7,326) rotate(-90)" font-size="36" text-anchor="middle">Absorbance Intensity</text>
<text transform="translate(51.5,1151.7) rotate(-90)" font-size="36" text-anchor="middle">Fluorescence Intensity</text>
</svg></body></html>
